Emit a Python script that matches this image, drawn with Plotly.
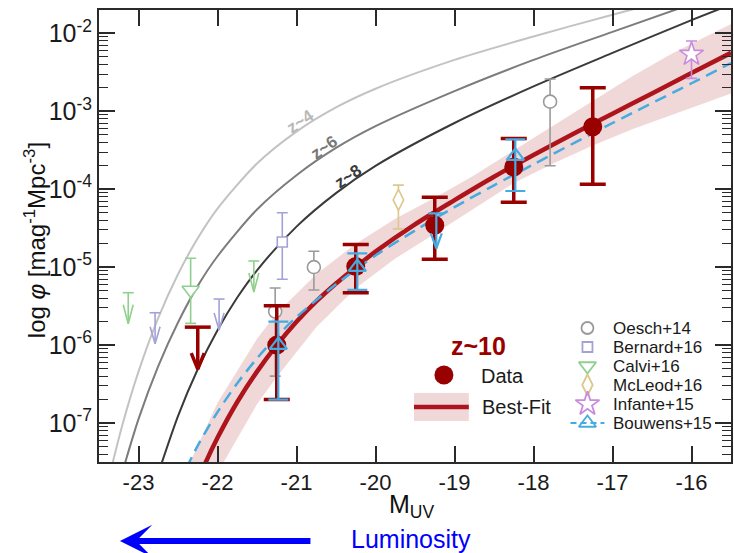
import numpy as np
import plotly.graph_objects as go

# ---------------- data ----------------
# z~10 stepwise LF (this work)
m_data = [-21.25, -20.25, -19.25, -18.25, -17.25]
phi_data = [1.0e-6, 1.02e-5, 3.46e-5, 1.93e-4, 6.32e-4]
phi_data_hi = [3.2e-6, 1.95e-5, 7.88e-5, 4.48e-4, 2.01e-3]
phi_data_lo = [2.0e-7, 4.7e-6, 1.26e-5, 6.8e-5, 1.16e-4]
m_data_lim = [-22.25]
phi_data_lim = [1.7e-6]

# best-fit curve (log10 phi) and its uncertainty band
m_fit = [-22.4, -22.2, -22.0, -21.75, -21.5, -21.25, -21.0, -20.75, -20.5, -20.25,
         -20.0, -19.5, -19.0, -18.5, -18.0, -17.5, -17.0, -16.5, -16.0, -15.5]
log_fit = [-8.12, -7.62, -7.19, -6.73, -6.34, -6.00, -5.70, -5.44, -5.21, -5.00,
           -4.80, -4.45, -4.14, -3.84, -3.56, -3.29, -3.03, -2.77, -2.51, -2.25]
m_band = [-22.4, -22.0, -21.5, -21.25, -20.75, -20.25, -19.75, -19.25, -18.75,
          -18.25, -17.75, -17.25, -16.75, -16.25, -15.75, -15.5]
log_band_hi = [-7.62, -6.74, -5.92, -5.59, -5.09, -4.70, -4.38, -4.11, -3.82,
               -3.50, -3.18, -2.86, -2.55, -2.26, -2.00, -1.88]
log_band_lo = [-8.62, -7.64, -6.76, -6.41, -5.77, -5.27, -4.89, -4.57, -4.25,
               -3.92, -3.67, -3.44, -3.23, -3.04, -2.86, -2.77]

# Lower-redshift LFs (log10 phi)
m_z4 = [-23.4, -23.2, -23.0, -22.75, -22.5, -22.25, -22.0, -21.5, -21.0, -20.5,
        -20.0, -19.0, -18.0, -17.0, -16.7]
log_z4 = [-7.81, -7.01, -6.34, -5.65, -5.09, -4.63, -4.25, -3.67, -3.26, -2.95,
          -2.71, -2.34, -2.04, -1.76, -1.68]
m_z6 = [-23.25, -23.0, -22.75, -22.5, -22.25, -22.0, -21.5, -21.0, -20.5, -20.0,
        -19.0, -18.0, -17.0, -16.1]
log_z6 = [-7.79, -6.95, -6.27, -5.71, -5.24, -4.86, -4.26, -3.82, -3.47, -3.19,
          -2.74, -2.34, -1.98, -1.66]
m_z8 = [-22.8, -22.5, -22.25, -22.0, -21.75, -21.5, -21.0, -20.5, -20.0, -19.0,
        -18.0, -17.0, -16.0, -15.6]
log_z8 = [-7.80, -6.91, -6.31, -5.81, -5.39, -5.04, -4.48, -4.05, -3.70, -3.15,
          -2.68, -2.25, -1.83, -1.67]

# Bouwens+15 z~10 curve (log10 phi)
m_b15c = [-22.5, -22.25, -22.0, -21.75, -21.5, -21.25, -21.0, -20.5, -20.0, -19.5,
          -19.0, -18.5, -18.0, -17.0, -16.0, -15.5]
log_b15c = [-7.80, -7.29, -6.86, -6.49, -6.17, -5.89, -5.64, -5.22, -4.85, -4.53,
            -4.23, -3.95, -3.68, -3.15, -2.64, -2.38]

# literature points
m_oesch14 = [-21.27, -20.78, -17.79]
phi_oesch14 = [2.7e-6, 1.0e-5, 1.33e-3]
hi_oesch14 = [5.4e-6, 1.6e-5, 2.6e-3]
lo_oesch14 = [4.0e-7, 5.1e-6, 2.0e-4]

m_bernard16 = [-21.18]
phi_bernard16 = [2.1e-5]
hi_bernard16 = [5.0e-5]
lo_bernard16 = [7.0e-6]
m_bernard16_lim = [-22.79, -21.98]
phi_bernard16_lim = [2.6e-6, 3.9e-6]

m_calvi16 = [-22.34]
phi_calvi16 = [5.1e-6]
hi_calvi16 = [1.3e-5]
lo_calvi16 = [1.9e-6]
m_calvi16_lim = [-23.13, -21.54]
phi_calvi16_lim = [4.7e-6, 1.2e-5]

m_mcleod16 = [-19.71]
phi_mcleod16 = [7.3e-5]
hi_mcleod16 = [1.13e-4]
lo_mcleod16 = [3.1e-5]

m_infante15 = [-16.0]
phi_infante15 = [5.4e-3]
hi_infante15 = [8.0e-3]
lo_infante15 = [2.65e-3]

m_bouwens15 = [-21.23, -20.23, -18.23]
phi_bouwens15 = [1.0e-6, 1.0e-5, 2.66e-4]
hi_bouwens15 = [2.0e-6, 1.5e-5, 4.37e-4]
lo_bouwens15 = [2.0e-7, 5.1e-6, 9.5e-5]
m_bouwens15_lim = [-19.23]
phi_bouwens15_lim = [4.9e-5]

x_ticks = [-23, -22, -21, -20, -19, -18, -17, -16]
y_ticks = [1e-7, 1e-6, 1e-5, 1e-4, 1e-3, 1e-2]

# ---------------- styling / geometry ----------------
W, H = 734, 553
ML, MR, MT, MB = 99, 1, 10, 91
XR = [-23.5, -15.5]
YR = [-7.5, -1.7]
MAG_PX = (XR[1] - XR[0]) / (W - ML - MR)
DEX_PX = (YR[1] - YR[0]) / (H - MT - MB)

FONT = "Liberation Sans, Arial, sans-serif"
C_RED = "#990000"
C_FIT = "#ad141c"
C_BAND = "rgba(205,110,110,0.27)"
C_BLUE = "#46abe0"
C_OESCH = "#9a9a9a"
C_BERN = "#a2a2d8"
C_CALVI = "#8fd08f"
C_MCL = "#dcc78c"
C_INF = "#c98bdc"

fig = go.Figure()

def pw(v):
    return [10 ** a for a in v]

def errs(y, hi, lo):
    return [h - v for h, v in zip(hi, y)], [v - l for v, l in zip(y, lo)]

def limit_path(ms, phis, cap_px, stem_px, hw_px, hh_px):
    xs, ys = [], []
    for m, p in zip(ms, phis):
        lg = np.log10(p)
        tip = lg - stem_px * DEX_PX
        cw, hw, hh = cap_px * MAG_PX, hw_px * MAG_PX, hh_px * DEX_PX
        xs += [m - cw, m + cw, None, m, m, None, m - hw, m, m + hw, None]
        ys += [p, p, None, p, 10 ** tip, None, 10 ** (tip + hh), 10 ** tip, 10 ** (tip + hh), None]
    return xs, ys

# band
fig.add_trace(go.Scatter(x=m_band + m_band[::-1], y=pw(log_band_hi) + pw(log_band_lo[::-1]),
                         fill="toself", fillcolor=C_BAND, line=dict(width=0),
                         mode="lines", hoverinfo="skip", showlegend=False))
# lower-z curves
for mm, ll, col in [(m_z4, log_z4, "#c3c3c3"), (m_z6, log_z6, "#7c7c7c"), (m_z8, log_z8, "#3a3a3a")]:
    fig.add_trace(go.Scatter(x=mm, y=pw(ll), mode="lines",
                             line=dict(color=col, width=2, shape="spline", smoothing=0.8),
                             showlegend=False))
# best fit
fig.add_trace(go.Scatter(x=m_fit, y=pw(log_fit), mode="lines",
                         line=dict(color=C_FIT, width=4.5, shape="spline", smoothing=0.8),
                         showlegend=False))
# Bouwens curve
fig.add_trace(go.Scatter(x=m_b15c, y=pw(log_b15c), mode="lines",
                         line=dict(color=C_BLUE, width=2.5, dash="12px,7px", shape="spline", smoothing=0.8),
                         showlegend=False))

# literature points
def lit(ms, ph, hi, lo, col, sym, size, capw=5.5):
    ep, em = errs(ph, hi, lo)
    fig.add_trace(go.Scatter(x=ms, y=ph, mode="markers",
                             marker=dict(symbol=sym, size=size, color="white",
                                         line=dict(color=col, width=1.6)),
                             error_y=dict(type="data", array=ep, arrayminus=em, symmetric=False,
                                          color=col, thickness=1.6, width=capw),
                             showlegend=False))

def lim(ms, ph, col, width, cap, stem, hw, hh):
    xs, ys = limit_path(ms, ph, cap, stem, hw, hh)
    fig.add_trace(go.Scatter(x=xs, y=ys, mode="lines", line=dict(color=col, width=width),
                             showlegend=False))

lit(m_oesch14, phi_oesch14, hi_oesch14, lo_oesch14, C_OESCH, "circle", 13)
lit(m_bernard16, phi_bernard16, hi_bernard16, lo_bernard16, C_BERN, "square", 10)
lit(m_calvi16, phi_calvi16, hi_calvi16, lo_calvi16, C_CALVI, "triangle-down", 15)
lit(m_mcleod16, phi_mcleod16, hi_mcleod16, lo_mcleod16, C_MCL, "diamond-tall", 15)
lit(m_infante15, phi_infante15, hi_infante15, lo_infante15, C_INF, "star", 18)
lim(m_bernard16_lim, phi_bernard16_lim, C_BERN, 1.6, 5.5, 31, 5, 17)
lim(m_calvi16_lim, phi_calvi16_lim, C_CALVI, 1.6, 5.5, 31, 5, 19)

# z~10 data
ep, em = errs(phi_data, phi_data_hi, phi_data_lo)
fig.add_trace(go.Scatter(x=m_data, y=phi_data, mode="markers",
                         marker=dict(symbol="circle", size=19, color=C_RED),
                         error_y=dict(type="data", array=ep, arrayminus=em, symmetric=False,
                                      color=C_RED, thickness=3.5, width=13),
                         showlegend=False))
lim(m_data_lim, phi_data_lim, C_RED, 3.5, 13, 42, 6.5, 16)

# Bouwens+15 points
ep, em = errs(phi_bouwens15, hi_bouwens15, lo_bouwens15)
fig.add_trace(go.Scatter(x=m_bouwens15, y=phi_bouwens15, mode="markers",
                         marker=dict(symbol="triangle-up-open", size=15, color=C_BLUE,
                                     line=dict(color=C_BLUE, width=2.2)),
                         error_y=dict(type="data", array=ep, arrayminus=em, symmetric=False,
                                      color=C_BLUE, thickness=2.2, width=10),
                         showlegend=False))
lim(m_bouwens15_lim, phi_bouwens15_lim, C_BLUE, 2.2, 8, 35, 5.5, 15)

# ---------------- legend glyphs (pixel overlay axes) ----------------
def px(xs, ys, **kw):
    fig.add_trace(go.Scatter(x=xs, y=ys, xaxis="x2", yaxis="y2", showlegend=False,
                             hoverinfo="skip", **kw))

px([415, 470, 470, 415, 415], [393, 393, 421, 421, 393], mode="lines", fill="toself",
   fillcolor=C_BAND, line=dict(width=0))
px([415, 470], [407, 407], mode="lines", line=dict(color=C_FIT, width=4.5))
px([445], [375], mode="markers", marker=dict(symbol="circle", size=19, color=C_RED))

leg_rows = [328, 347, 366, 385, 404, 423]
leg_names = ["Oesch+14", "Bernard+16", "Calvi+16", "McLeod+16", "Infante+15", "Bouwens+15"]
leg_cols = [C_OESCH, C_BERN, C_CALVI, C_MCL, C_INF, C_BLUE]
leg_syms = ["circle-open", "square-open", "triangle-down-open", "diamond-tall-open",
            "star-open", "triangle-up-open"]
leg_sizes = [12, 10, 15, 15, 18, 15]
px([572, 606], [leg_rows[5]] * 2, mode="lines", line=dict(color=C_BLUE, width=2.2, dash="6px,4px"))
for yy, col, sym, sz in zip(leg_rows, leg_cols, leg_syms, leg_sizes):
    px([589], [yy], mode="markers",
       marker=dict(symbol=sym, size=sz, color=col, line=dict(color=col, width=1.8)))

ann = []
def txt(x, y, t, size, color="#1a1a1a", xanchor="left", bold=False, angle=0):
    ann.append(dict(x=x, y=y, xref="x2", yref="y2", text=("<b>%s</b>" % t) if bold else t,
                    showarrow=False, xanchor=xanchor, yanchor="middle", textangle=angle,
                    font=dict(size=size, color=color, family=FONT)))

def ptxt(x, y, t, size, color="#111111", xanchor="center", angle=0):
    # pixel position -> paper coordinates (for text outside the plotting area)
    ann.append(dict(x=(x - ML) / (W - ML - MR), y=(H - MB - y) / (H - MT - MB),
                    xref="paper", yref="paper", text=t, showarrow=False,
                    xanchor=xanchor, yanchor="middle", textangle=angle,
                    font=dict(size=size, color=color, family=FONT)))

txt(480, 346, "z~10", 25, C_RED, "center", bold=True)
txt(480, 376, "Data", 20)
txt(481, 407, "Best-Fit", 20)
for yy, nm in zip(leg_rows, leg_names):
    txt(613, yy, nm, 17)

txt(301, 121, "z~4", 17, "#b8b8b8", "center", bold=True, angle=-34)
txt(325, 147, "z~6", 17, "#777777", "center", bold=True, angle=-35)
txt(349, 176, "z~8", 17, "#3a3a3a", "center", bold=True, angle=-34)

# axis titles
ptxt(412, 506, "M<sub>UV</sub>", 25)
ptxt(35, 240, "log <i>φ</i> [mag<sup>-1</sup>Mpc<sup>-3</sup>]", 24, angle=-90)
# luminosity arrow
ann.append(dict(x=(120 - ML) / (W - ML - MR), y=(H - MB - 541) / (H - MT - MB),
                xref="paper", yref="paper", ax=192, ay=0, axref="pixel", ayref="pixel",
                text="", showarrow=True, arrowhead=3, arrowsize=0.9, arrowwidth=6,
                arrowcolor="#0000ff", standoff=0, startstandoff=0))
ptxt(350, 539, "Luminosity", 25, "#0000ff", "left")

minor_vals = [m * 10 ** k for k in range(-8, -1) for m in range(2, 10)]

axcol = "#2a2a2a"
fig.update_layout(
    width=W, height=H, margin=dict(l=ML, r=MR, t=MT, b=MB),
    paper_bgcolor="white", plot_bgcolor="white",
    font=dict(family=FONT, color="#1a1a1a"),
    annotations=ann,
    xaxis=dict(range=XR, tickmode="array", tickvals=x_ticks,
               ticktext=[str(v) for v in x_ticks],
               ticks="inside", ticklen=16, tickwidth=1.6, tickcolor=axcol,
               showline=True, linecolor=axcol, linewidth=1.8, mirror="ticks",
               showgrid=False, zeroline=False, tickfont=dict(size=22, color="#1a1a1a")),
    yaxis=dict(type="log", range=YR, tickmode="array", tickvals=y_ticks,
               ticktext=["10<sup>%d</sup>" % int(round(np.log10(v))) for v in y_ticks],
               ticks="inside", ticklen=16, tickwidth=1.6, tickcolor=axcol,
               minor=dict(ticks="inside", ticklen=9, tickwidth=1.4, tickcolor=axcol,
                          tickmode="array", tickvals=minor_vals, showgrid=False),
               showline=True, linecolor=axcol, linewidth=1.8, mirror="ticks",
               showgrid=False, zeroline=False, tickfont=dict(size=25, color="#1a1a1a")),
    xaxis2=dict(range=[ML, W - MR], overlaying="x", visible=False, anchor="y2"),
    yaxis2=dict(range=[H - MB, MT], overlaying="y", visible=False, anchor="x2"),
)

fig.write_html("out.html")
